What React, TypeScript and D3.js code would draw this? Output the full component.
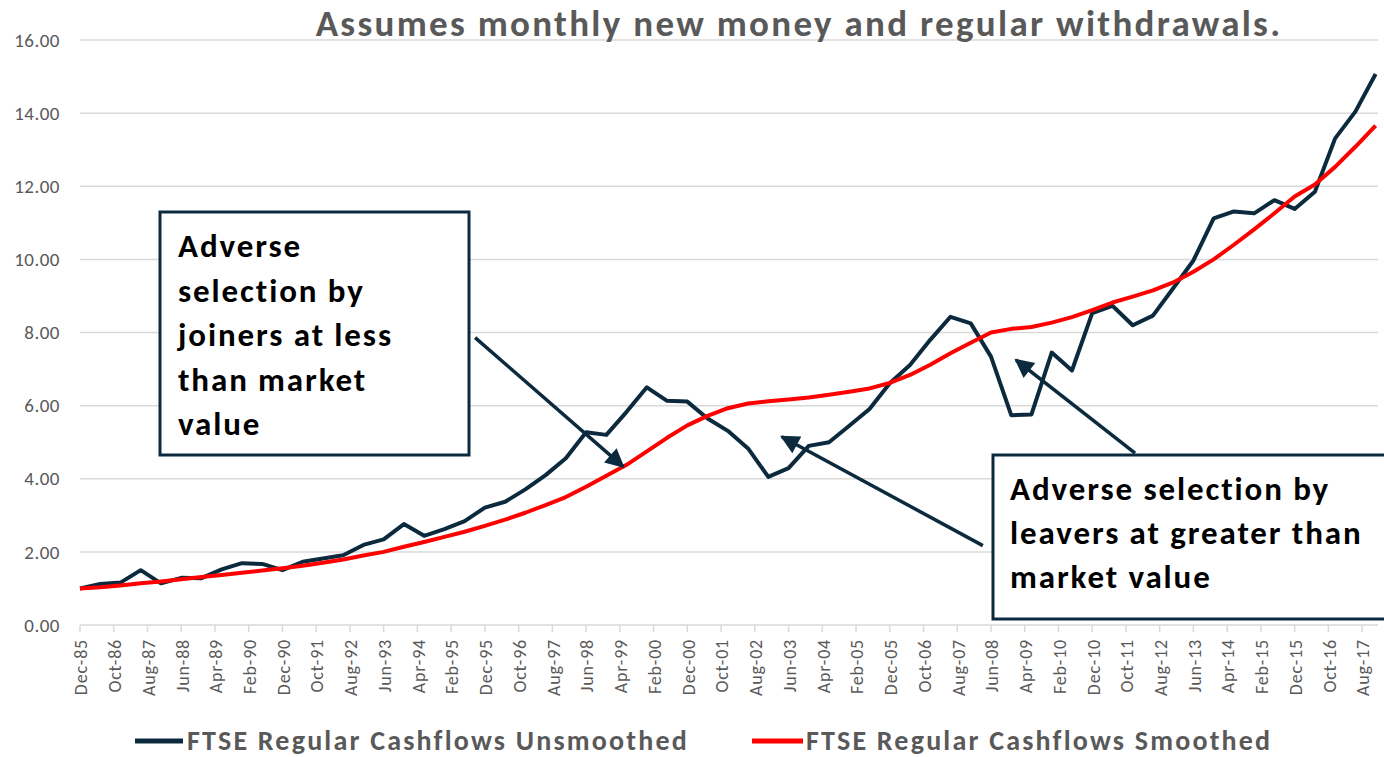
import React from 'react';
import * as d3 from 'd3';

// semi-annual points, Dec-85 .. Dec-17 (month offset = i * 6)
const unsmoothed = [
  1.00, 1.12, 1.16, 1.50, 1.14, 1.29, 1.28, 1.52, 1.69, 1.67,
  1.50, 1.73, 1.82, 1.91, 2.19, 2.34, 2.76, 2.44, 2.62, 2.84,
  3.21, 3.37, 3.71, 4.10, 4.56, 5.27, 5.20, 5.83, 6.50, 6.13,
  6.11, 5.65, 5.31, 4.83, 4.05, 4.29, 4.90, 5.00, 5.45, 5.91,
  6.61, 7.11, 7.80, 8.43, 8.25, 7.34, 5.74, 5.76, 7.45, 6.96,
  8.53, 8.73, 8.20, 8.46, 9.21, 9.97, 11.12, 11.31, 11.26, 11.62,
  11.38, 11.85, 13.31, 14.04, 15.07,
];

const smoothed = [
  1.00, 1.03, 1.08, 1.14, 1.19, 1.25, 1.31, 1.37, 1.43, 1.49,
  1.55, 1.62, 1.70, 1.79, 1.90, 2.00, 2.14, 2.27, 2.41, 2.55,
  2.71, 2.88, 3.07, 3.28, 3.50, 3.78, 4.08, 4.38, 4.75, 5.12,
  5.46, 5.72, 5.93, 6.06, 6.12, 6.17, 6.22, 6.30, 6.38, 6.47,
  6.62, 6.84, 7.12, 7.43, 7.72, 8.00, 8.10, 8.15, 8.27, 8.42,
  8.61, 8.82, 8.98, 9.15, 9.37, 9.66, 10.00, 10.40, 10.82, 11.26,
  11.72, 12.05, 12.53, 13.08, 13.66,
];

// every 10 months from Dec-85
const tickLabels = [
  'Dec-85', 'Oct-86', 'Aug-87', 'Jun-88', 'Apr-89', 'Feb-90', 'Dec-90', 'Oct-91',
  'Aug-92', 'Jun-93', 'Apr-94', 'Feb-95', 'Dec-95', 'Oct-96', 'Aug-97', 'Jun-98',
  'Apr-99', 'Feb-00', 'Dec-00', 'Oct-01', 'Aug-02', 'Jun-03', 'Apr-04', 'Feb-05',
  'Dec-05', 'Oct-06', 'Aug-07', 'Jun-08', 'Apr-09', 'Feb-10', 'Dec-10', 'Oct-11',
  'Aug-12', 'Jun-13', 'Apr-14', 'Feb-15', 'Dec-15', 'Oct-16', 'Aug-17',
];

const yTicks = [0, 2, 4, 6, 8, 10, 12, 14, 16];

const seriesNames = ['FTSE Regular Cashflows Unsmoothed', 'FTSE Regular Cashflows Smoothed'];

// annotation arrows in data space: [month offset, value] from -> to
const arrows = [
  { from: [117.1, 7.86], to: [161, 4.33] },
  { from: [267.6, 2.17], to: [208, 5.15] },
  { from: [312.7, 4.70], to: [277.4, 7.25] },
];

const boxLeft = ['Adverse', 'selection by', 'joiners at less', 'than market', 'value'];
const boxRight = ['Adverse selection by', 'leavers at greater than', 'market value'];

const NAVY = '#0c2a3e';
const RED = '#ff0000';
const GREY = '#595959';
const FONT = 'Carlito, Calibri, Lato, sans-serif';

const W = 1384;
const H = 757;

export default function App() {
  const x = d3.scaleLinear().domain([0, 385]).range([80, 1379]);
  const y = d3.scaleLinear().domain([0, 16]).range([625, 40]);

  const line = d3.line<number>()
    .x((d, i) => x(i * 6))
    .y(d => y(d));

  return (
    <div style={{ position: 'fixed', left: 0, top: 0 }}>
      <svg width={W} height={H} style={{ display: 'block', background: '#fff' }} fontFamily={FONT}>
        <defs>
          <marker id="arr" viewBox="0 0 10 10" refX="9" refY="5" markerWidth="22" markerHeight="19"
            markerUnits="userSpaceOnUse" orient="auto">
            <path d="M0,0 L10,5 L0,10 z" fill={NAVY} />
          </marker>
        </defs>

        {/* gridlines + y labels */}
        {yTicks.map(t => (
          <g key={t}>
            <line x1={80} x2={1378} y1={y(t)} y2={y(t)} stroke="#d9d9d9" strokeWidth={1.5} />
            <text x={60} y={y(t)} dy="0.35em" textAnchor="end" fontSize={19} letterSpacing={0.5} fill={GREY}>
              {t.toFixed(2)}
            </text>
          </g>
        ))}

        {/* x ticks + labels */}
        {tickLabels.map((lab, i) => (
          <g key={lab}>
            <line x1={x(i * 10)} x2={x(i * 10)} y1={625} y2={632} stroke="#d9d9d9" strokeWidth={1.5} />
            <text transform={`translate(${x(i * 10) + 1},639) rotate(-90)`} dy="0.35em" textAnchor="end"
              fontSize={18} letterSpacing={0.8} fill={GREY}>
              {lab}
            </text>
          </g>
        ))}

        {/* title */}
        <text x={799} y={36} textAnchor="middle" fontSize={37} letterSpacing={2.3} fontWeight="bold" fill={GREY}>
          Assumes monthly new money and regular withdrawals.
        </text>

        {/* series */}
        <path d={line(unsmoothed) || ''} fill="none" stroke={NAVY} strokeWidth={4} strokeLinejoin="round" />
        <path d={line(smoothed) || ''} fill="none" stroke={RED} strokeWidth={4} strokeLinejoin="round" />

        {/* annotation boxes */}
        <rect x={160} y={212} width={309} height={243} fill="#fff" stroke={NAVY} strokeWidth={3} />
        {boxLeft.map((t, i) => (
          <text key={t} x={178} y={257 + i * 44.5} fontSize={33} letterSpacing={1.9} fontWeight="bold" fill="#000">{t}</text>
        ))}
        <rect x={993} y={455} width={400} height={164} fill="#fff" stroke={NAVY} strokeWidth={3} />
        {boxRight.map((t, i) => (
          <text key={t} x={1010} y={500 + i * 44} fontSize={33} letterSpacing={1.9} fontWeight="bold" fill="#000">{t}</text>
        ))}

        {/* arrows */}
        {arrows.map((a, i) => (
          <line key={i} x1={x(a.from[0])} y1={y(a.from[1])} x2={x(a.to[0])} y2={y(a.to[1])}
            stroke={NAVY} strokeWidth={3.5} markerEnd="url(#arr)" />
        ))}

        {/* legend */}
        <line x1={135} x2={183} y1={741} y2={741} stroke={NAVY} strokeWidth={5} />
        <text x={187} y={750} fontSize={28} letterSpacing={2.2} fontWeight="bold" fill={GREY}>{seriesNames[0]}</text>
        <line x1={752} x2={803} y1={741} y2={741} stroke={RED} strokeWidth={5} />
        <text x={806} y={750} fontSize={28} letterSpacing={2.2} fontWeight="bold" fill={GREY}>{seriesNames[1]}</text>
      </svg>
    </div>
  );
}
